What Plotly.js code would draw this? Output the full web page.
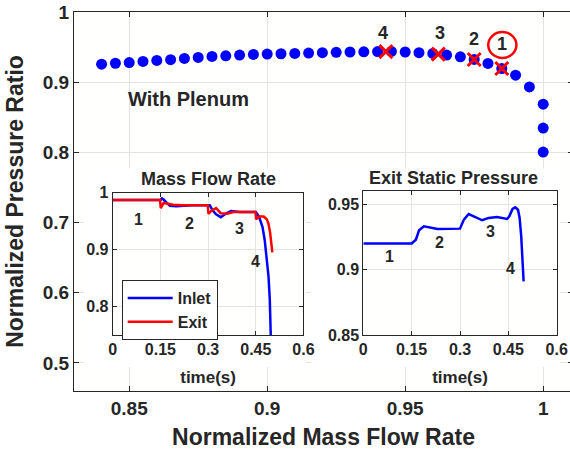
<!DOCTYPE html>
<html><head><meta charset="utf-8">
<script src="https://cdn.plot.ly/plotly-3.0.1.min.js"></script>
<style>html,body{margin:0;padding:0;overflow:hidden;background:#fff}#chart{width:573px;height:450px}</style>
</head><body><div id="chart"></div>
<script>
// Main characteristic (With Plenum)
const massFlow = [0.840,0.845,0.850,0.855,0.860,0.865,0.870,0.875,0.880,0.885,0.890,0.895,0.900,
  0.905,0.910,0.915,0.920,0.925,0.930,0.935,0.940,0.945,0.950,0.955,0.960,0.965,0.970,0.975,0.980,0.985,0.990,0.995,
  1.000,1.000,1.000];
const pressureRatio = [0.9257,0.9270,0.9280,0.9296,0.9310,0.9320,0.9339,0.9353,0.9367,0.9376,0.9386,0.9396,0.9400,
  0.9405,0.9410,0.9415,0.9420,0.9425,0.9430,0.9433,0.9436,0.9438,0.9430,0.9420,0.9410,0.9386,0.9362,0.9324,0.9267,0.9195,0.9100,0.8933,
  0.8686,0.8347,0.8004];
const markedFlow = [0.943,0.962,0.975,0.985];
const markedPressure = [0.9436,0.9400,0.9324,0.9195];
const markedLabels = ['4','3','2','1'];
const markedLabelFlow = [0.9419,0.9626,0.9749,0.9852];
const markedLabelPressure = [0.970,0.970,0.9614,0.955];

// Inset 1: Mass Flow Rate
const inletTime = [0,0.15,0.155,0.16,0.17,0.18,0.20,0.22,0.25,0.30,0.305,0.314,0.325,0.34,0.355,0.372,0.385,0.40,0.42,0.45,0.46,0.471,0.478,0.484,0.49,0.494,0.497];
const inletFlow = [0.987,0.987,0.990,0.988,0.982,0.977,0.976,0.977,0.978,0.978,0.978,0.969,0.962,0.957,0.963,0.968,0.967,0.966,0.966,0.966,0.958,0.940,0.917,0.888,0.853,0.812,0.750];
const exitTime = [0,0.149,0.151,0.16,0.17,0.19,0.22,0.26,0.299,0.301,0.31,0.325,0.34,0.36,0.38,0.40,0.449,0.451,0.46,0.475,0.485,0.49,0.495,0.499,0.502];
const exitFlow = [0.987,0.987,0.973,0.982,0.981,0.979,0.978,0.978,0.978,0.963,0.968,0.973,0.964,0.963,0.966,0.966,0.966,0.953,0.958,0.958,0.953,0.945,0.930,0.910,0.895];
const flowStageTime = [0.08,0.24,0.40,0.45];
const flowStageValue = [0.953,0.946,0.9375,0.879];

// Inset 2: Exit Static Pressure
const pressTime = [0,0.15,0.163,0.173,0.188,0.204,0.23,0.30,0.312,0.327,0.343,0.369,0.389,0.415,0.446,0.453,0.463,0.4716,0.48,0.485,0.490,0.4942,0.4974];
const pressValue = [0.920,0.920,0.9229,0.9301,0.9332,0.9325,0.9312,0.9314,0.9383,0.9426,0.9408,0.9378,0.9396,0.9403,0.9388,0.9408,0.9465,0.9477,0.9459,0.9396,0.9255,0.9076,0.891];
const pressStageTime = [0.081,0.2355,0.396,0.458];
const pressStageValue = [0.910,0.921,0.929,0.901];
const stageLabels = ['1','2','3','4'];

const FONT = 'Arial, "Liberation Sans", sans-serif';
const TXT = '#262626';
const BLUE = '#0000FF', RED = '#FF0000';
const GRID = '#e3e3e3';

const traces = [
  {x: massFlow, y: pressureRatio, type:'scatter', mode:'markers', xaxis:'x', yaxis:'y', showlegend:false,
   marker:{color:BLUE, size:11}},
  {x: markedFlow, y: markedPressure, type:'scatter', mode:'markers', xaxis:'x', yaxis:'y', showlegend:false,
   marker:{symbol:'x-thin', size:13, line:{color:RED, width:3}}},
  {x: inletTime, y: inletFlow, type:'scatter', mode:'lines', name:'Inlet', xaxis:'x2', yaxis:'y2',
   line:{color:BLUE, width:2.5}},
  {x: exitTime, y: exitFlow, type:'scatter', mode:'lines', name:'Exit', xaxis:'x2', yaxis:'y2',
   line:{color:RED, width:2.5}},
  {x: pressTime, y: pressValue, type:'scatter', mode:'lines', name:'Exit Static Pressure', xaxis:'x3', yaxis:'y3', showlegend:false,
   line:{color:BLUE, width:2.5}}
];

const annotations = [];
markedLabels.forEach((t,i)=>annotations.push({xref:'x', yref:'y', x:markedLabelFlow[i], y:markedLabelPressure[i], text:t, showarrow:false,
  font:{family:FONT, size:18, color:TXT, weight:'bold'}}));
stageLabels.forEach((t,i)=>annotations.push({xref:'x2', yref:'y2', x:flowStageTime[i], y:flowStageValue[i], text:t, showarrow:false,
  font:{family:FONT, size:16, color:TXT, weight:'bold'}}));
stageLabels.forEach((t,i)=>annotations.push({xref:'x3', yref:'y3', x:pressStageTime[i], y:pressStageValue[i], text:t, showarrow:false,
  font:{family:FONT, size:16, color:TXT, weight:'bold'}}));
annotations.push({xref:'x', yref:'y', x:0.849, y:0.876, xanchor:'left', text:'With Plenum', showarrow:false,
  font:{family:FONT, size:20, color:TXT, weight:'bold'}});
annotations.push({xref:'x2 domain', yref:'y2 domain', x:0.5, y:1, yanchor:'middle', yshift:14, text:'Mass Flow Rate', showarrow:false,
  font:{family:FONT, size:18, color:TXT, weight:'bold'}});
annotations.push({xref:'x3 domain', yref:'y3 domain', x:0.464, y:1, yanchor:'middle', yshift:13, text:'Exit Static Pressure', showarrow:false,
  font:{family:FONT, size:18, color:TXT, weight:'bold'}});

function mainAxis(o){ return Object.assign({showline:true, linecolor:TXT, linewidth:1, mirror:'ticks', ticks:'inside', ticklen:5,
  tickcolor:TXT, showgrid:true, gridcolor:GRID, zeroline:false, tickfont:{family:FONT, size:19, color:TXT, weight:'bold'}}, o); }
function insetAxis(o){ return Object.assign({showline:true, linecolor:TXT, linewidth:1, mirror:'ticks', ticks:'inside', ticklen:4,
  tickcolor:TXT, showgrid:true, gridcolor:GRID, zeroline:false, tickfont:{family:FONT, size:16, color:TXT, weight:'bold'}}, o); }

const layout = {
  width:573, height:450,
  margin:{l:74, r:0, t:12, b:59},
  paper_bgcolor:'#ffffff', plot_bgcolor:'#fffffe',
  font:{family:FONT, color:TXT, weight:'bold'},
  xaxis: mainAxis({domain:[0,1], anchor:'y', range:[0.83,1.0108], tick0:0.85, dtick:0.05,
    title:{text:'Normalized Mass Flow Rate', font:{family:FONT, size:23, color:TXT, weight:'bold'}, standoff:12}}),
  yaxis: mainAxis({domain:[0,1], anchor:'x', range:[0.46,1.0], tick0:0.5, dtick:0.1,
    title:{text:'Normalized Pressure Ratio', font:{family:FONT, size:23, color:TXT, weight:'bold'}, standoff:12}}),
  xaxis2: insetAxis({domain:[0.0776,0.4599], anchor:'y2', range:[0,0.6], tick0:0, dtick:0.15,
    title:{text:'time(s)', font:{family:FONT, size:17, color:TXT, weight:'bold'}, standoff:13}}),
  yaxis2: insetAxis({domain:[0.1478,0.5232], anchor:'x2', range:[0.75,1.0], tick0:0.8, dtick:0.1}),
  xaxis3: insetAxis({domain:[0.5798,0.9673], anchor:'y3', range:[0,0.6], tick0:0, dtick:0.15,
    title:{text:'time(s)', font:{family:FONT, size:17, color:TXT, weight:'bold'}, standoff:13}}),
  yaxis3: insetAxis({domain:[0.1478,0.5277], anchor:'x3', range:[0.85,0.9602], tick0:0.85, dtick:0.05}),
  legend:{x:0.0956, y:0.2929, xanchor:'left', yanchor:'top', bgcolor:'#ffffff', bordercolor:TXT, borderwidth:1,
    font:{family:FONT, size:16, color:TXT, weight:'bold'}, itemwidth:45, tracegroupgap:0},
  annotations: annotations,
  shapes:[
    {type:'rect', xref:'x', yref:'y', x0:0.8336, x1:0.9140, y0:0.4943, y1:0.7771, layer:'between', fillcolor:'#ffffff', line:{width:0}},
    {type:'rect', xref:'x', yref:'y', x0:0.9160, x1:1.0060, y0:0.4943, y1:0.7771, layer:'between', fillcolor:'#ffffff', line:{width:0}},
    {type:'circle', xref:'x', yref:'y', x0:0.9801, x1:0.9903, y0:0.9345, y1:0.9715, line:{color:RED, width:2.5}}
  ]
};

Plotly.newPlot('chart', traces, layout, {displayModeBar:false, staticPlot:true});
</script>
</body></html>
